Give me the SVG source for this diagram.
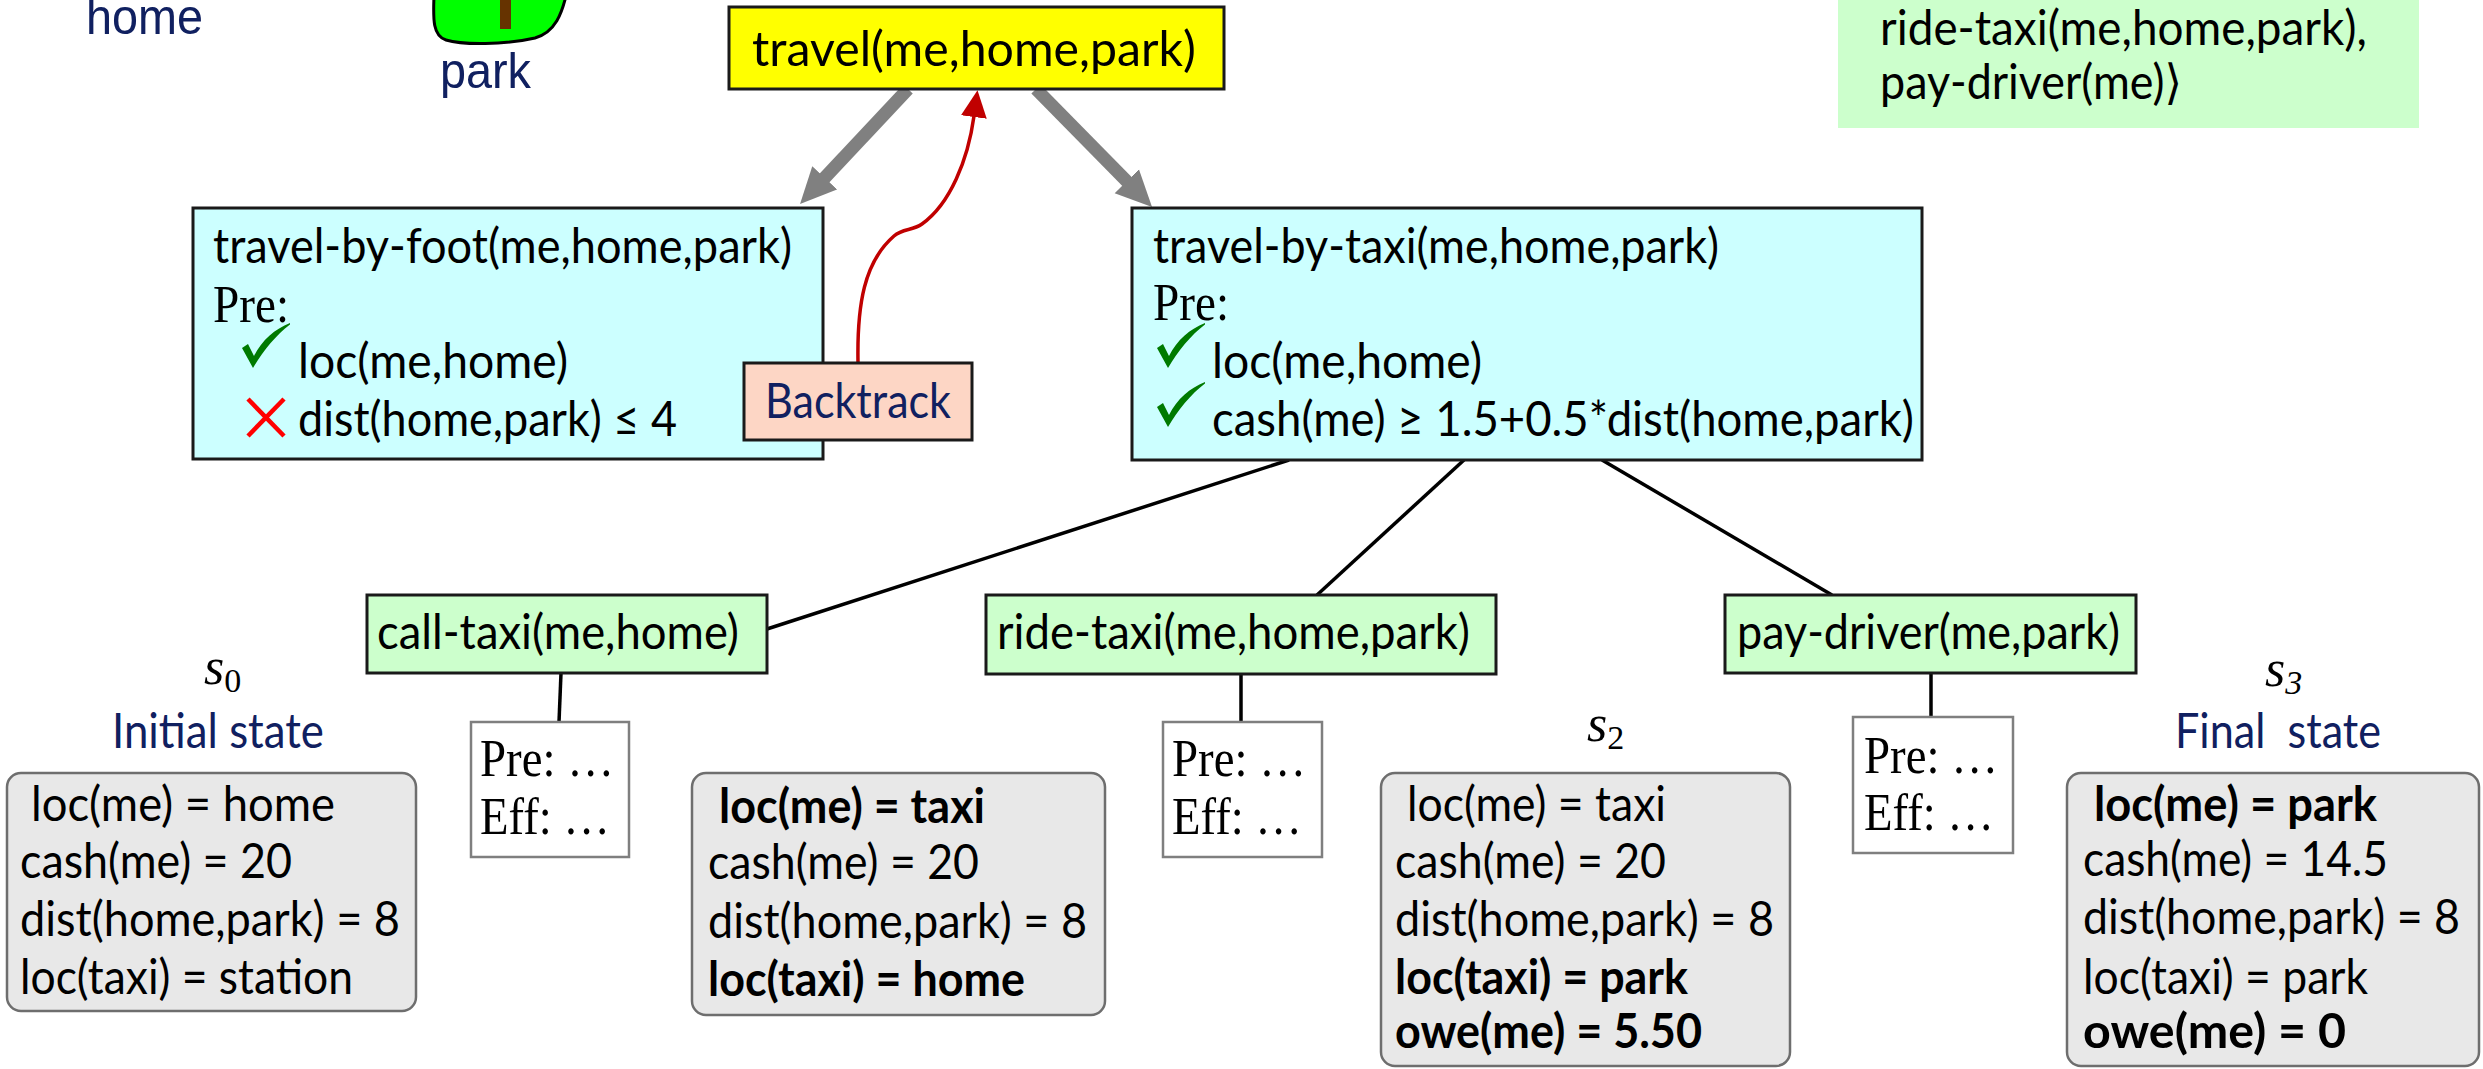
<svg xmlns="http://www.w3.org/2000/svg" width="2483" height="1069" viewBox="0 0 2483 1069">
  <style>
    .sans { font-family: Lato, "Open Sans", "Liberation Sans", "DejaVu Sans", sans-serif; font-size: 48px; fill: #000; }
    .b { font-weight: bold; }
    .navy { fill: #102060; }
    .serif { font-family: "Liberation Serif", "Times New Roman", serif; font-size: 52px; fill: #000; }
    .ital { font-style: italic; }
    .arial { font-family: "Liberation Sans", Arial, sans-serif; font-size: 50px; fill: #102060; }
    .edge { stroke: #1a1a1a; stroke-width: 3; }
    .task { fill: #ccffff; }
    .act { fill: #ccffcc; }
    .goal { fill: #ffff00; }
    .note { fill: #fdd6c5; }
    .state { fill: #e8e8e8; stroke: #6e6e6e; stroke-width: 2.5; }
    .pe { fill: #ffffff; stroke: #7f7f7f; stroke-width: 2.5; }
    .decomp { stroke: #808080; stroke-width: 13; fill: none; }
    .back { stroke: #c00000; stroke-width: 3.5; fill: none; }
    .tree { stroke: #000; stroke-width: 3.5; fill: none; }
    .ok { fill: #007a00; }
    .fail { stroke: #ff0000; stroke-width: 4.5; }
  </style>
  <defs>
    <marker id="grayHead" markerUnits="userSpaceOnUse" markerWidth="36" markerHeight="36" viewBox="0 0 36 36" refX="1" refY="18" orient="auto">
      <path d="M0,1 L36,18 L0,35 Z" fill="#808080"/>
    </marker>
    <marker id="redHead" markerUnits="userSpaceOnUse" markerWidth="28" markerHeight="28" viewBox="0 0 28 28" refX="1" refY="14" orient="auto">
      <path d="M0,1 L27,14 L0,27 Z" fill="#c00000"/>
    </marker>
    <path id="tick" d="M0,25 L6,21 L12,33 C20,17 33,6 48,0 L48,1.5 C34,12 21,28 11,45 Z"/>
  </defs>

  <!-- locations -->
  <g id="home">
    <text class="arial" x="86" y="34" font-size="46" textLength="117" lengthAdjust="spacingAndGlyphs">home</text>
  </g>
  <g id="park">
    <path d="M434,-4 C433,20 433,36 446,40 C462,45 505,45 535,38 C556,32 562,12 566,-4 Z" fill="#00ff00" stroke="#000" stroke-width="3"/>
    <rect x="500" y="-4" width="11" height="33" fill="#663300"/>
    <text class="arial" x="440" y="88" textLength="91" lengthAdjust="spacingAndGlyphs">park</text>
  </g>

  <!-- resulting plan -->
  <g id="plan">
    <rect x="1838" y="-5" width="581" height="133" fill="#ccffcc"/>
    <text class="sans" x="1880" y="45" textLength="487" lengthAdjust="spacingAndGlyphs">ride-taxi(me,home,park),</text>
    <text class="sans" x="1880" y="99" textLength="302" lengthAdjust="spacingAndGlyphs">pay-driver(me)⟩</text>
  </g>

  <!-- connectors -->
  <g id="connectors">
    <line class="decomp" x1="908" y1="89" x2="824" y2="178.5" marker-end="url(#grayHead)"/>
    <line class="decomp" x1="1036" y1="89" x2="1127.5" y2="182" marker-end="url(#grayHead)"/>
    <path class="back" d="M858,362 C857,305 864,262 894,236 C903,228 912,231 922,224 C950,204 968,160 974,116" marker-end="url(#redHead)"/>
    <line class="tree" x1="1289" y1="460" x2="767" y2="629"/>
    <line class="tree" x1="1464" y1="460" x2="1317" y2="595"/>
    <line class="tree" x1="1602" y1="460" x2="1832" y2="595"/>
    <line class="tree" x1="561" y1="673" x2="559" y2="722"/>
    <line class="tree" x1="1241" y1="674" x2="1241" y2="722"/>
    <line class="tree" x1="1931" y1="673" x2="1931" y2="717"/>
  </g>

  <!-- task -->
  <g id="travel">
    <rect class="goal edge" x="729" y="7" width="495" height="82"/>
    <text class="sans" x="752" y="66" font-size="51" textLength="444" lengthAdjust="spacingAndGlyphs">travel(me,home,park)</text>
  </g>

  <!-- methods -->
  <g id="travel-by-foot">
    <rect class="task edge" x="193" y="208" width="630" height="251"/>
    <text class="sans" x="213" y="263" textLength="579" lengthAdjust="spacingAndGlyphs">travel-by-foot(me,home,park)</text>
    <text class="serif" x="213" y="322" textLength="76" lengthAdjust="spacingAndGlyphs">Pre:</text>
    <use href="#tick" class="ok" x="242" y="323"/>
    <text class="sans" x="298" y="378" textLength="270" lengthAdjust="spacingAndGlyphs">loc(me,home)</text>
    <line class="fail" x1="248" y1="399" x2="284" y2="436"/>
    <line class="fail" x1="284" y1="399" x2="248" y2="436"/>
    <text class="sans" x="298" y="436" textLength="379" lengthAdjust="spacingAndGlyphs">dist(home,park) ≤ 4</text>
  </g>

  <g id="backtrack">
    <rect class="note edge" x="744" y="363" width="228" height="77"/>
    <text class="sans navy" x="765" y="418" textLength="186" lengthAdjust="spacingAndGlyphs">Backtrack</text>
  </g>

  <g id="travel-by-taxi">
    <rect class="task edge" x="1132" y="208" width="790" height="252"/>
    <text class="sans" x="1153" y="263" textLength="566" lengthAdjust="spacingAndGlyphs">travel-by-taxi(me,home,park)</text>
    <text class="serif" x="1153" y="320" textLength="76" lengthAdjust="spacingAndGlyphs">Pre:</text>
    <use href="#tick" class="ok" x="1157" y="323"/>
    <text class="sans" x="1212" y="378" textLength="270" lengthAdjust="spacingAndGlyphs">loc(me,home)</text>
    <use href="#tick" class="ok" x="1157" y="382"/>
    <text class="sans" x="1212" y="436" textLength="702" lengthAdjust="spacingAndGlyphs">cash(me) ≥ 1.5+0.5*dist(home,park)</text>
  </g>

  <!-- actions -->
  <g id="call-taxi">
    <rect class="act edge" x="367" y="595" width="400" height="78"/>
    <text class="sans" x="377" y="649" textLength="362" lengthAdjust="spacingAndGlyphs">call-taxi(me,home)</text>
  </g>
  <g id="call-taxi-model">
    <rect class="pe" x="471" y="722" width="158" height="135"/>
    <text class="serif navy" x="480" y="776" textLength="134" lengthAdjust="spacingAndGlyphs">Pre: …</text>
    <text class="serif navy" x="480" y="834" textLength="130" lengthAdjust="spacingAndGlyphs">Eff: …</text>
  </g>

  <g id="ride-taxi">
    <rect class="act edge" x="986" y="595" width="510" height="79"/>
    <text class="sans" x="997" y="649" textLength="473" lengthAdjust="spacingAndGlyphs">ride-taxi(me,home,park)</text>
  </g>
  <g id="ride-taxi-model">
    <rect class="pe" x="1163" y="722" width="159" height="135"/>
    <text class="serif navy" x="1172" y="776" textLength="134" lengthAdjust="spacingAndGlyphs">Pre: …</text>
    <text class="serif navy" x="1172" y="834" textLength="130" lengthAdjust="spacingAndGlyphs">Eff: …</text>
  </g>

  <g id="pay-driver">
    <rect class="act edge" x="1725" y="595" width="411" height="78"/>
    <text class="sans" x="1737" y="649" textLength="383" lengthAdjust="spacingAndGlyphs">pay-driver(me,park)</text>
  </g>
  <g id="pay-driver-model">
    <rect class="pe" x="1853" y="717" width="160" height="136"/>
    <text class="serif navy" x="1864" y="773" textLength="134" lengthAdjust="spacingAndGlyphs">Pre: …</text>
    <text class="serif navy" x="1864" y="830" textLength="130" lengthAdjust="spacingAndGlyphs">Eff: …</text>
  </g>

  <!-- states -->
  <g id="s0">
    <text class="serif ital" x="204" y="684" font-size="52">s<tspan font-style="normal" font-size="34" dy="8">0</tspan></text>
    <text class="sans navy" x="112" y="748" textLength="212" lengthAdjust="spacingAndGlyphs">Initial state</text>
    <rect class="state" x="7" y="773" width="409" height="238" rx="14"/>
    <text class="sans" x="31" y="821" textLength="304" lengthAdjust="spacingAndGlyphs">loc(me) = home</text>
    <text class="sans" x="20" y="878" textLength="272" lengthAdjust="spacingAndGlyphs">cash(me) = 20</text>
    <text class="sans" x="20" y="936" textLength="380" lengthAdjust="spacingAndGlyphs">dist(home,park) = 8</text>
    <text class="sans" x="20" y="994" textLength="333" lengthAdjust="spacingAndGlyphs">loc(taxi) = station</text>
  </g>

  <g id="s1">
    <rect class="state" x="692" y="773" width="413" height="242" rx="14"/>
    <text class="sans b" x="719" y="823" textLength="266" lengthAdjust="spacingAndGlyphs">loc(me) = taxi</text>
    <text class="sans" x="708" y="879" textLength="271" lengthAdjust="spacingAndGlyphs">cash(me) = 20</text>
    <text class="sans" x="708" y="938" textLength="379" lengthAdjust="spacingAndGlyphs">dist(home,park) = 8</text>
    <text class="sans b" x="708" y="996" textLength="317" lengthAdjust="spacingAndGlyphs">loc(taxi) = home</text>
  </g>

  <g id="s2">
    <text class="serif ital" x="1587" y="741" font-size="52">s<tspan font-style="normal" font-size="34" dy="8">2</tspan></text>
    <rect class="state" x="1381" y="773" width="409" height="293" rx="14"/>
    <text class="sans" x="1407" y="821" textLength="259" lengthAdjust="spacingAndGlyphs">loc(me) = taxi</text>
    <text class="sans" x="1395" y="878" textLength="271" lengthAdjust="spacingAndGlyphs">cash(me) = 20</text>
    <text class="sans" x="1395" y="936" textLength="379" lengthAdjust="spacingAndGlyphs">dist(home,park) = 8</text>
    <text class="sans b" x="1395" y="994" textLength="293" lengthAdjust="spacingAndGlyphs">loc(taxi) = park</text>
    <text class="sans b" x="1395" y="1048" textLength="307" lengthAdjust="spacingAndGlyphs">owe(me) = 5.50</text>
  </g>

  <g id="s3">
    <text class="serif ital" x="2265" y="686" font-size="52">s<tspan font-size="34" dy="8">3</tspan></text>
    <text class="sans navy" x="2175" y="748" textLength="206" lengthAdjust="spacingAndGlyphs">Final&#160; state</text>
    <rect class="state" x="2067" y="773" width="412" height="293" rx="14"/>
    <text class="sans b" x="2094" y="821" textLength="283" lengthAdjust="spacingAndGlyphs">loc(me) = park</text>
    <text class="sans" x="2083" y="876" textLength="305" lengthAdjust="spacingAndGlyphs">cash(me) = 14.5</text>
    <text class="sans" x="2083" y="934" textLength="377" lengthAdjust="spacingAndGlyphs">dist(home,park) = 8</text>
    <text class="sans" x="2083" y="994" textLength="285" lengthAdjust="spacingAndGlyphs">loc(taxi) = park</text>
    <text class="sans b" x="2083" y="1048" textLength="263" lengthAdjust="spacingAndGlyphs">owe(me) = 0</text>
  </g>
</svg>
